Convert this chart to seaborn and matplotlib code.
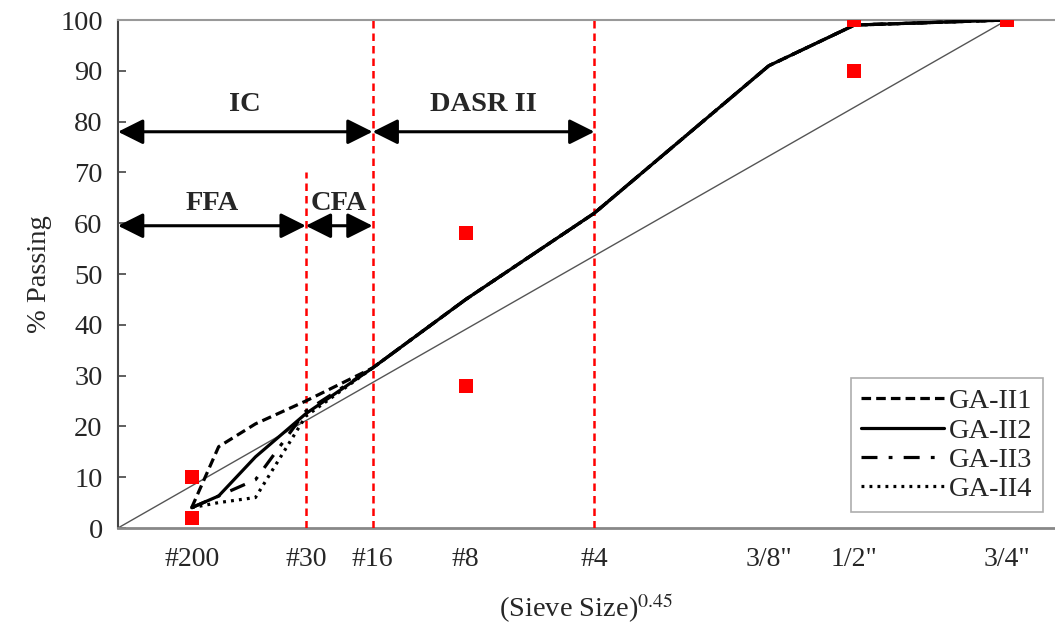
import numpy as np
import pandas as pd
import matplotlib
matplotlib.use("Agg")
import matplotlib.pyplot as plt
from matplotlib.lines import Line2D
import seaborn as sns

# Sieve sizes (mm) and their labels
sieve_labels = ["#200", "#100", "#50", "#30", "#16", "#8", "#4", '3/8"', '1/2"', '3/4"']
sieve_mm = [0.075, 0.15, 0.3, 0.6, 1.18, 2.36, 4.75, 9.5, 12.5, 19.0]
shown_labels = ["#200", "#30", "#16", "#8", "#4", '3/8"', '1/2"', '3/4"']

# Percent passing for each blend
ga_ii1 = [4.0, 16.0, 20.5, 25.0, 31.5, 45.0, 62.0, 91.0, 99.0, 100.0]
ga_ii2 = [4.0, 6.3, 14.0, 22.5, 31.5, 45.0, 62.0, 91.0, 99.0, 100.0]
ga_ii3 = [4.0, 6.3, 9.5, 23.0, 31.5, 45.0, 62.0, 91.0, 99.0, 100.0]
ga_ii4 = [4.0, 5.0, 6.0, 22.0, 31.5, 45.0, 62.0, 91.0, 99.0, 100.0]
mix_names = ["GA-II1", "GA-II2", "GA-II3", "GA-II4"]

# Control points (sieve, % passing)
ctrl_sieves = ["#200", "#200", "#8", "#8", '1/2"', '1/2"', '3/4"']
ctrl_values = [2, 10, 28, 58, 90, 100, 100]

# Maximum density line end points
mdl_sieves = ["origin", '3/4"']
mdl_values = [0, 100]

exponent = 0.45
pos = {lab: mm ** exponent for lab, mm in zip(sieve_labels, sieve_mm)}
pos["origin"] = 0.0

sns.set_theme(style="white")
plt.rcParams["font.family"] = ["Liberation Serif", "DejaVu Serif"]
plt.rcParams["mathtext.fontset"] = "stix"

FS = 20.5

fig = plt.figure(figsize=(10.55, 6.32), dpi=100)
ax = fig.add_axes([118 / 1055, 1 - 528 / 632, 1 - 118 / 1055, (528 - 20) / 632])

rows = []
for name, vals in zip(mix_names, [ga_ii1, ga_ii2, ga_ii3, ga_ii4]):
    for lab, v in zip(sieve_labels, vals):
        rows.append({"x": pos[lab], "passing": v, "mix": name})
df = pd.DataFrame(rows)

dash_map = {
    "GA-II1": (3.0, 1.6),
    "GA-II2": "",
    "GA-II3": (5.0, 3.5, 1.2, 3.5),
    "GA-II4": (0.9, 1.6),
}

# Maximum density line
mdl = pd.DataFrame({"x": [pos[s] for s in mdl_sieves], "passing": mdl_values})
sns.lineplot(data=mdl, x="x", y="passing", color="#555555", lw=1.0, ax=ax,
             legend=False, zorder=2)

sns.lineplot(data=df, x="x", y="passing", style="mix", dashes=dash_map,
             color="black", lw=2.3, sort=False, ax=ax, legend=False, zorder=4)

# Control points
ctrl = pd.DataFrame({"x": [pos[s] for s in ctrl_sieves], "passing": ctrl_values})
sns.scatterplot(data=ctrl, x="x", y="passing", marker="s", s=100, color="#ff0000",
                edgecolor="none", ax=ax, zorder=5, legend=False)

# Region boundaries
red_dash = (0, (3, 2))
ax.vlines(pos["#30"], 0, 70, colors="#ff0000", linestyles=red_dash, lw=1.8, zorder=3)
ax.vlines([pos["#16"], pos["#4"]], 0, 100, colors="#ff0000", linestyles=red_dash,
          lw=1.8, zorder=3)

# Range arrows with labels
arrow_kw = dict(arrowstyle="<|-|>,head_length=0.7,head_width=0.35", color="black",
                lw=2.2, mutation_scale=22, shrinkA=0, shrinkB=0)
def span(x0, x1, y, text, ty):
    ax.annotate("", xy=(x0, y), xytext=(x1, y), arrowprops=arrow_kw, zorder=6)
    ax.text((x0 + x1) / 2, ty, text, ha="center", va="center", fontsize=FS,
            fontweight="bold")

span(0.0, pos["#16"], 78, "IC", 83.3)
span(pos["#16"], pos["#4"], 78, "DASR II", 83.3)
span(0.0, pos["#30"], 59.5, "FFA", 63.8)
span(pos["#30"], pos["#16"], 59.5, "CFA", 63.8)

ax.set_xlim(0, 3.965)
ax.set_ylim(0, 100)
ax.set_yticks(range(0, 101, 10))
ax.set_xticks([pos[l] for l in shown_labels])
ax.set_xticklabels(shown_labels)
ax.tick_params(axis="y", direction="in", length=6, width=1.2, color="#444444",
               labelsize=FS, pad=11, left=True)
ax.tick_params(axis="x", length=0, labelsize=FS - 0.5, pad=14)

ax.set_xlabel("(Sieve Size)$^{0.45}$", fontsize=FS, labelpad=14)
ax.set_ylabel("% Passing", fontsize=FS, labelpad=6)

ax.spines["right"].set_visible(False)
ax.spines["left"].set_color("#444444")
ax.spines["left"].set_linewidth(1.5)
ax.spines["bottom"].set_color("#888888")
ax.spines["bottom"].set_linewidth(2.0)
ax.spines["top"].set_color("#999999")
ax.spines["top"].set_linewidth(1.5)

handles = [Line2D([], [], color="black", lw=2.3,
                  linestyle=("-" if dash_map[n] == "" else (0, dash_map[n])))
           for n in mix_names]
leg = ax.legend(handles, mix_names, loc="lower right", bbox_to_anchor=(0.987, 0.031),
                borderaxespad=0, fontsize=FS, frameon=True, fancybox=False,
                handlelength=2.9, handletextpad=0.2, labelspacing=0.12,
                borderpad=0.35)
leg.get_frame().set_edgecolor("#999999")
leg.get_frame().set_linewidth(1.2)

fig.savefig("out.png", dpi=100)
